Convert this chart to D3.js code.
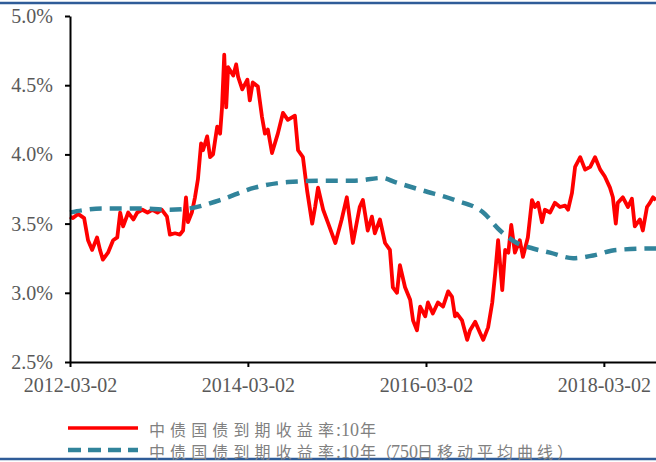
<!DOCTYPE html>
<html>
<head>
<meta charset="utf-8">
<script src="https://cdn.jsdelivr.net/npm/d3@7"></script>
<style>
  body { margin: 0; background: #fff; }
  svg { display: block; }
</style>
</head>
<body>
<svg id="chart" width="656" height="462"></svg>
<script>
// 中债国债到期收益率:10年 (daily)
var yieldDates = ['2012-03-02','2012-03-14','2012-04-04','2012-04-29','2012-05-15','2012-06-01','2012-06-21','2012-07-03','2012-07-15','2012-08-05',
  '2012-08-26','2012-09-12','2012-09-24','2012-10-06','2012-10-27','2012-11-17','2012-12-03','2012-12-24','2013-01-14','2013-02-03',
  '2013-02-24','2013-03-14','2013-04-04','2013-04-16','2013-05-07','2013-05-27','2013-06-09','2013-06-21','2013-06-29','2013-07-15',
  '2013-07-28','2013-08-09','2013-08-22','2013-08-30','2013-09-16','2013-09-28','2013-10-10','2013-10-27','2013-11-08','2013-11-16',
  '2013-11-25','2013-12-03','2013-12-11','2014-01-01','2014-01-13','2014-01-21','2014-02-07','2014-02-28','2014-03-10','2014-03-22',
  '2014-04-12','2014-04-29','2014-05-11','2014-05-23','2014-06-09','2014-07-03','2014-07-24','2014-08-13','2014-09-11','2014-09-24',
  '2014-10-14','2014-10-31','2014-11-21','2014-12-03','2014-12-15','2015-01-05','2015-01-26','2015-02-24','2015-03-22','2015-04-12',
  '2015-05-07','2015-06-04','2015-06-17','2015-07-07','2015-07-24','2015-08-05','2015-08-26','2015-09-16','2015-10-06','2015-10-18',
  '2015-11-04','2015-11-16','2015-12-07','2015-12-28','2016-01-09','2016-01-25','2016-02-07','2016-02-28','2016-03-10','2016-03-30',
  '2016-04-20','2016-05-11','2016-06-01','2016-06-17','2016-06-29','2016-07-07','2016-07-28','2016-08-18','2016-08-30','2016-09-20',
  '2016-10-10','2016-10-23','2016-11-12','2016-11-29','2016-12-11','2016-12-23','2017-01-09','2017-01-21','2017-02-03','2017-02-15',
  '2017-03-02','2017-03-22','2017-04-04','2017-04-24','2017-05-11','2017-05-23','2017-06-05','2017-06-21','2017-07-03','2017-07-24',
  '2017-08-13','2017-09-03','2017-09-24','2017-10-06','2017-10-22','2017-11-04','2017-11-25','2017-12-15','2018-01-05','2018-01-25',
  '2018-02-15','2018-03-06','2018-03-27','2018-04-08','2018-04-20','2018-04-28','2018-05-19','2018-06-09','2018-06-25','2018-07-07',
  '2018-07-28','2018-08-09','2018-08-26','2018-09-07','2018-09-20','2018-10-02'];
var yieldValues = [3.55,3.54,3.57,3.54,3.38,3.31,3.40,3.31,3.24,3.29,
  3.38,3.40,3.58,3.48,3.58,3.53,3.58,3.60,3.58,3.60,
  3.58,3.60,3.55,3.42,3.43,3.42,3.45,3.69,3.51,3.58,
  3.69,3.82,4.08,4.03,4.13,3.98,4.00,4.20,4.15,4.34,
  4.72,4.34,4.63,4.57,4.65,4.56,4.47,4.54,4.39,4.52,
  4.49,4.27,4.15,4.18,4.01,4.15,4.30,4.25,4.28,4.03,
  3.98,3.74,3.50,3.62,3.76,3.60,3.50,3.36,3.53,3.69,
  3.36,3.62,3.67,3.45,3.55,3.43,3.53,3.36,3.31,3.04,
  3.00,3.20,3.04,2.95,2.80,2.73,2.90,2.83,2.93,2.85,
  2.93,2.90,3.01,2.97,2.83,2.85,2.80,2.66,2.73,2.79,
  2.71,2.66,2.75,2.93,3.14,3.38,3.02,3.31,3.29,3.49,
  3.29,3.38,3.26,3.40,3.67,3.62,3.65,3.51,3.60,3.58,
  3.65,3.62,3.63,3.60,3.72,3.91,3.98,3.89,3.91,3.98,
  3.89,3.84,3.76,3.69,3.50,3.65,3.69,3.62,3.68,3.48,
  3.53,3.45,3.62,3.65,3.69,3.67];

// 750日移动平均曲线
var maDates = ['2012-03-02','2012-07-15','2012-12-03','2013-04-16','2013-07-07','2013-11-08','2014-03-30','2014-08-13','2014-12-31',
  '2015-05-15','2015-09-04','2015-10-27','2016-02-16','2016-06-29','2016-10-23','2016-12-31','2017-03-10','2017-05-15','2017-07-24',
  '2017-10-27','2018-01-17','2018-04-24','2018-09-20','2018-10-02'];
var maValues = [3.58,3.61,3.61,3.60,3.61,3.67,3.76,3.80,3.81,
  3.81,3.83,3.80,3.74,3.67,3.58,3.45,3.36,3.32,3.29,
  3.25,3.27,3.31,3.32,3.32];

var yTicks = [2.5, 3.0, 3.5, 4.0, 4.5, 5.0];
var xTickLabels = ['2012-03-02', '2014-03-02', '2016-03-02', '2018-03-02'];
var seriesNames = ['中债国债到期收益率:10年', '中债国债到期收益率:10年（750日移动平均曲线）'];

var parseDate = d3.timeParse('%Y-%m-%d');
var svg = d3.select('#chart');

var x = d3.scaleTime()
  .domain([parseDate('2012-03-02'), parseDate('2018-10-02')])
  .range([70, 656]);
var y = d3.scaleLinear()
  .domain([2.5, 5.0])
  .range([362, 16]);

// frame lines top & bottom
svg.append('line').attr('x1', 0).attr('x2', 656).attr('y1', 3).attr('y2', 3)
  .style('stroke', '#2f5c98').style('stroke-width', 2.5);
svg.append('line').attr('x1', 0).attr('x2', 656).attr('y1', 459).attr('y2', 459)
  .style('stroke', '#2f5c98').style('stroke-width', 2.5);

var yieldData = yieldDates.map(function(d, i){ return {date: parseDate(d), value: yieldValues[i]}; });
var maData = maDates.map(function(d, i){ return {date: parseDate(d), value: maValues[i]}; });

var line = d3.line()
  .x(function(d){ return x(d.date); })
  .y(function(d){ return y(d.value); });

svg.append('path')
  .datum(yieldData)
  .attr('d', line)
  .style('fill', 'none')
  .style('stroke', '#ff0000')
  .style('stroke-width', 3.8)
  .style('stroke-linejoin', 'round');

svg.append('path')
  .datum(maData)
  .attr('d', line.curve(d3.curveMonotoneX))
  .style('fill', 'none')
  .style('stroke', '#31849b')
  .style('stroke-width', 4.5)
  .style('stroke-dasharray', '12,8');

// axes
var yAxis = svg.append('g')
  .attr('transform', 'translate(70,0)')
  .call(d3.axisLeft(y).tickValues(yTicks).tickSize(5).tickSizeOuter(0)
    .tickFormat(function(d){ return d.toFixed(1) + '%'; }));
var xAxis = svg.append('g')
  .attr('transform', 'translate(0,362)')
  .call(d3.axisBottom(x).tickValues(xTickLabels.map(parseDate)).tickSize(5).tickSizeOuter(0)
    .tickFormat(d3.timeFormat('%Y-%m-%d')));

[yAxis, xAxis].forEach(function(g){
  g.select('.domain').style('stroke', '#000').style('stroke-width', 2);
  g.selectAll('.tick line').style('stroke', '#000').style('stroke-width', 2);
  g.selectAll('.tick text')
    .style('font-family', '"Liberation Serif", "Times New Roman", serif')
    .style('font-size', '20px')
    .style('fill', '#595959');
});
yAxis.selectAll('.tick text').attr('x', -17);
xAxis.selectAll('.tick text').attr('y', 16);

// legend
var legend = svg.append('g');
legend.append('line').attr('x1', 68).attr('x2', 138).attr('y1', 428).attr('y2', 428)
  .style('stroke', '#ff0000').style('stroke-width', 3.5);
legend.append('line').attr('x1', 68).attr('x2', 138).attr('y1', 450).attr('y2', 450)
  .style('stroke', '#31849b').style('stroke-width', 4.5).style('stroke-dasharray', '13,7');

// each legend label is split in runs: CJK runs are spread out, the digits stay tight
var cjk = '"Noto Sans CJK SC", sans-serif', serif = '"Liberation Serif", serif';
function legendText(yPos, label){
  var runs = [
    {s: 0, e: 9, x: 149, len: 185, font: cjk, size: 16},
    {s: 9, e: 12, x: 336, len: 0, font: serif, size: 18},
    {s: 12, e: 13, x: 360, len: 0, font: cjk, size: 16}
  ];
  if (label.length > 13) {
    runs.push({s: 13, e: 14, x: 376, len: 0, font: cjk, size: 16});
    runs.push({s: 14, e: 17, x: 391, len: 0, font: serif, size: 18});
    runs.push({s: 17, e: label.length, x: 417, len: 156, font: cjk, size: 16});
  }
  var t = legend.append('text')
    .attr('y', yPos)
    .style('fill', '#808080');
  runs.forEach(function(r){
    var ts = t.append('tspan')
      .attr('x', r.x)
      .text(label.slice(r.s, r.e))
      .style('font-family', r.font)
      .style('font-size', r.size + 'px');
    if (r.len) ts.attr('textLength', r.len).attr('lengthAdjust', 'spacing');
  });
}
legendText(436, seriesNames[0]);
legendText(458, seriesNames[1]);
</script>
</body>
</html>
